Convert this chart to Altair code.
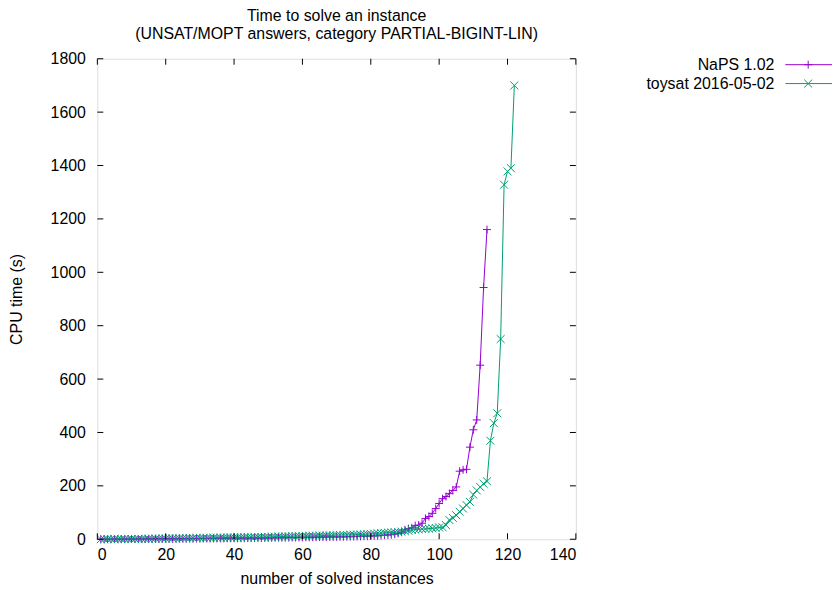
import altair as alt
import pandas as pd

SERIES = ["NaPS 1.02", "toysat 2016-05-02"]
COLORS = ["#9400d3", "#009e73"]

NAPS = [
    0.1, 0.2, 0.2, 0.3, 0.3, 0.4, 0.5, 0.5, 0.6, 0.7,
    0.8, 0.9, 1.0, 1.0, 1.1, 1.2, 1.3, 1.4, 1.5, 1.6,
    1.7, 1.8, 1.9, 2.0, 2.1, 2.2, 2.3, 2.4, 2.5, 2.6,
    2.7, 2.8, 2.9, 3.0, 3.1, 3.2, 3.3, 3.4, 3.5, 3.6,
    3.7, 3.8, 3.9, 4.0, 4.1, 4.3, 4.5, 4.7, 4.9, 5.1,
    5.3, 5.5, 5.7, 5.9, 6.1, 6.3, 6.5, 6.7, 6.9, 7.1,
    7.3, 7.5, 7.7, 7.9, 8.1, 8.3, 8.5, 8.7, 8.9, 9.1,
    9.3, 9.5, 9.7, 9.9, 10.2, 10.5, 10.8, 11.1, 11.5, 12.0,
    12.5, 13, 14, 15, 16, 17, 19, 22, 26, 35,
    40, 43, 51, 53, 60, 78, 85, 97, 115, 134,
    152, 160, 171, 183, 196, 255, 260, 262, 345, 410, 447, 652, 943, 1160,
]

TOYSAT = [
    0.2, 0.3, 0.4, 0.5, 0.6, 0.7, 0.8, 0.9, 1.0, 1.1,
    1.2, 1.4, 1.6, 1.8, 2.0, 2.2, 2.4, 2.6, 2.8, 3.0,
    3.2, 3.4, 3.6, 3.8, 4.0, 4.2, 4.4, 4.6, 4.8, 5.0,
    5.2, 5.4, 5.6, 5.8, 6.0, 6.2, 6.4, 6.6, 6.8, 7.0,
    7.2, 7.4, 7.6, 7.8, 8.0, 8.2, 8.4, 8.6, 8.8, 9.0,
    9.3, 9.6, 9.9, 10.2, 10.5, 10.8, 11.1, 11.4, 11.7, 12.0,
    12.3, 12.6, 12.9, 13.2, 13.5, 13.8, 14.1, 14.4, 14.7, 15.0,
    15.4, 15.8, 16.2, 16.6, 17.0, 17.5, 18.0, 18.5, 19.0, 20.0,
    21, 22, 23, 24, 25, 25, 26, 27, 28, 30,
    32, 35, 36, 37, 38, 39, 40, 41, 42, 44,
    45, 53, 72, 80, 90, 103, 115, 128, 140, 167, 183, 196, 208, 217,
    369, 435, 472, 750, 1328, 1378, 1390, 1700,
]

X_TICKS = [0, 20, 40, 60, 80, 100, 120, 140]
Y_TICKS = [0, 200, 400, 600, 800, 1000, 1200, 1400, 1600, 1800]

TITLE = ["Time to solve an instance", "(UNSAT/MOPT answers, category PARTIAL-BIGINT-LIN)"]
X_TITLE = "number of solved instances"
Y_TITLE = "CPU time (s)"

FONT = "Liberation Sans"
FS = 16
W, H = 482, 484

PLUS = "M-1,0L1,0M0,-1L0,1"
CROSS = "M-1,-1L1,1M-1,1L1,-1"

rows = []
for name, vals in zip(SERIES, [NAPS, TOYSAT]):
    for i, v in enumerate(vals, start=1):
        rows.append({"series": name, "n": i, "t": v})
df = pd.DataFrame(rows)

xs = alt.Scale(domain=[0, 140], nice=False, zero=False)
ys = alt.Scale(domain=[0, 1800], nice=False, zero=False)
color = alt.Color("series:N", scale=alt.Scale(domain=SERIES, range=COLORS), legend=None)
shape = alt.Shape("series:N", scale=alt.Scale(domain=SERIES, range=[PLUS, CROSS]), legend=None)

xaxis = alt.Axis(values=X_TICKS, format="d", ticks=False, domain=False, grid=False, labelPadding=7,
                 labelFont=FONT, labelFontSize=FS, labelColor="black", title=X_TITLE,
                 titleFont=FONT, titleFontSize=FS, titleFontWeight="normal", titleColor="black",
                 titleY=40, titleBaseline="middle")
yaxis = alt.Axis(values=Y_TICKS, format="d", ticks=False, domain=False, grid=False, labelPadding=12,
                 labelFont=FONT, labelFontSize=FS, labelColor="black", title=Y_TITLE,
                 titleFont=FONT, titleFontSize=FS, titleFontWeight="normal", titleColor="black",
                 titleX=-81, titleY=242, titleAngle=270, titleAlign="center", titleBaseline="middle")

base = alt.Chart(df)
lines = base.mark_line(strokeWidth=1).encode(
    x=alt.X("n:Q", scale=xs, axis=xaxis, title=X_TITLE),
    y=alt.Y("t:Q", scale=ys, axis=yaxis, title=Y_TITLE),
    color=color,
    detail="series:N",
)
points = base.mark_point(filled=False, size=64, strokeWidth=1, opacity=1).encode(
    x=alt.X("n:Q", scale=xs, axis=xaxis, title=X_TITLE),
    y=alt.Y("t:Q", scale=ys, axis=yaxis, title=Y_TITLE),
    color=color,
    shape=shape,
)

xt = pd.DataFrame({"v": X_TICKS})
yt = pd.DataFrame({"v": Y_TICKS})
tick_color = "black"
bt = alt.Chart(xt).mark_rule(color=tick_color, strokeWidth=1).encode(
    x=alt.X("v:Q", scale=xs, axis=xaxis, title=X_TITLE), y=alt.value(H), y2=alt.value(H - 6))
tt = alt.Chart(xt).mark_rule(color=tick_color, strokeWidth=1).encode(
    x=alt.X("v:Q", scale=xs, axis=xaxis, title=X_TITLE), y=alt.value(0), y2=alt.value(6))
lt = alt.Chart(yt).mark_rule(color=tick_color, strokeWidth=1).encode(
    y=alt.Y("v:Q", scale=ys, axis=yaxis, title=Y_TITLE), x=alt.value(0), x2=alt.value(6))
rt = alt.Chart(yt).mark_rule(color=tick_color, strokeWidth=1).encode(
    y=alt.Y("v:Q", scale=ys, axis=yaxis, title=Y_TITLE), x=alt.value(W), x2=alt.value(W - 6))

one = pd.DataFrame({"k": [0]})
leg = []
for k, (name, col, shp) in enumerate(zip(SERIES, COLORS, [PLUS, CROSS])):
    yy = 6 + 19 * k
    leg.append(alt.Chart(one).mark_text(align="right", baseline="middle", font=FONT, fontSize=FS,
                                        color="black").encode(
        x=alt.value(682), y=alt.value(yy), text=alt.value(name)))
    leg.append(alt.Chart(one).mark_rule(color=col, strokeWidth=1).encode(
        x=alt.value(693), x2=alt.value(740), y=alt.value(yy)))
    leg.append(alt.Chart(one).mark_point(filled=False, size=64, strokeWidth=1, opacity=1,
                                         color=col, shape=shp).encode(
        x=alt.value(716), y=alt.value(yy)))

chart = alt.layer(lines, points, bt, tt, lt, rt, *leg).properties(
    width=W, height=H,
    title=alt.Title(TITLE, font=FONT, fontSize=FS, fontWeight="normal", color="black",
                    anchor="middle", lineHeight=18, offset=9),
    autosize=alt.AutoSizeParams(type="none"),
    padding={"left": 90, "top": 49, "right": 258, "bottom": 48},
).configure_view(stroke="black", strokeWidth=1).configure(background="white")

chart.save("out.html", embed_options={"renderer": "svg", "actions": False})
